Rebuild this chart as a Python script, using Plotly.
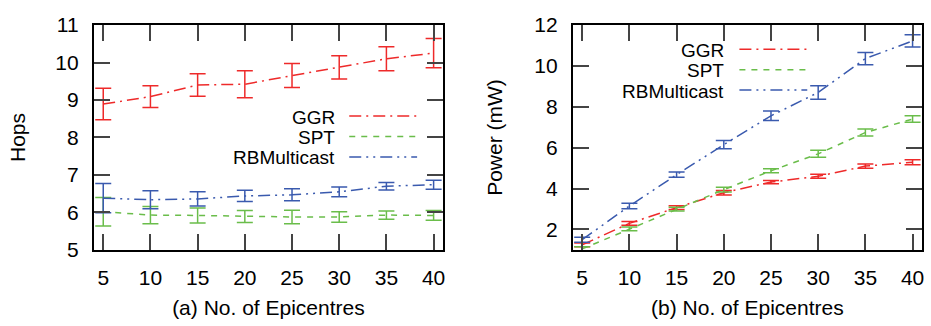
import plotly.graph_objects as go

epicentres = [5, 10, 15, 20, 25, 30, 35, 40]

# (a) Hops
hops_ggr = [8.89, 9.09, 9.40, 9.42, 9.65, 9.87, 10.10, 10.25]
hops_ggr_err = [0.42, 0.29, 0.30, 0.36, 0.32, 0.31, 0.32, 0.39]
hops_spt = [6.02, 5.93, 5.92, 5.89, 5.88, 5.88, 5.93, 5.92]
hops_spt_err = [0.38, 0.23, 0.20, 0.16, 0.18, 0.14, 0.11, 0.13]
hops_rbm = [6.38, 6.34, 6.36, 6.44, 6.47, 6.55, 6.70, 6.74]
hops_rbm_err = [0.39, 0.24, 0.19, 0.15, 0.16, 0.13, 0.10, 0.12]

# (b) Power (mW)
pow_ggr = [1.25, 2.30, 3.07, 3.80, 4.32, 4.60, 5.10, 5.29]
pow_ggr_err = [0.09, 0.09, 0.09, 0.11, 0.08, 0.10, 0.10, 0.12]
pow_spt = [1.05, 2.03, 3.00, 3.95, 4.87, 5.70, 6.74, 7.40]
pow_spt_err = [0.10, 0.09, 0.09, 0.12, 0.10, 0.17, 0.17, 0.16]
pow_rbm = [1.50, 3.15, 4.68, 6.15, 7.56, 8.70, 10.36, 11.22]
pow_rbm_err = [0.12, 0.13, 0.13, 0.20, 0.23, 0.33, 0.30, 0.30]

series_names = ["GGR", "SPT", "RBMulticast"]
colors = ["#ee2a2a", "#6abd4a", "#3a5aae"]
dashes = ["12px,5px,2px,5px", "6px,6px", "12px,5px,2px,5px,2px,5px"]

W, H = 931, 326
FONT = "Liberation Sans, Arial, sans-serif"
FS = 21
LEG_FS = 19

fig = go.Figure()

panels = [
    ("x", "y", [hops_ggr, hops_spt, hops_rbm], [hops_ggr_err, hops_spt_err, hops_rbm_err]),
    ("x2", "y2", [pow_ggr, pow_spt, pow_rbm], [pow_ggr_err, pow_spt_err, pow_rbm_err]),
]
for xa, ya, vals, errs in panels:
    for name, v, e, c, d in zip(series_names, vals, errs, colors, dashes):
        fig.add_trace(go.Scatter(
            x=epicentres, y=v, mode="lines", name=name, showlegend=False,
            line=dict(color=c, width=1.5, dash=d),
            error_y=dict(type="data", array=e, visible=True, color=c,
                         thickness=1.5, width=8),
            xaxis=xa, yaxis=ya,
        ))

def px_x(p):
    return p / W

def px_y(p):
    return 1 - p / H

axis_common = dict(
    showgrid=False, zeroline=False, showline=True, linecolor="black",
    linewidth=2, mirror="ticks", ticks="inside", ticklen=16, tickwidth=2,
    tickcolor="#444444", tickfont=dict(family=FONT, size=FS, color="black"),
)

ydom = [px_y(256), px_y(14)]
fig.update_layout(
    width=W, height=H,
    margin=dict(l=0, r=0, t=0, b=0),
    paper_bgcolor="white", plot_bgcolor="white",
    font=dict(family=FONT, size=FS, color="black"),
    xaxis=dict(domain=[px_x(94), px_x(444)], range=[4, 41],
               tickvals=epicentres, ticklabelstandoff=8,
               title=dict(text="(a) No. of Epicentres", standoff=12,
                          font=dict(family=FONT, size=FS)),
               anchor="y", **axis_common),
    yaxis=dict(domain=ydom, range=[5, 11], dtick=1, ticklabelstandoff=9,
               title=dict(text="Hops", standoff=24, font=dict(family=FONT, size=FS)),
               anchor="x", **axis_common),
    xaxis2=dict(domain=[px_x(574), px_x(924)], range=[4, 41],
                tickvals=epicentres, ticklabelstandoff=8,
                title=dict(text="(b) No. of Epicentres", standoff=12,
                           font=dict(family=FONT, size=FS)),
                anchor="y2", **axis_common),
    yaxis2=dict(domain=ydom, range=[1, 12], tickvals=[2, 4, 6, 8, 10, 12],
                ticklabelstandoff=9,
                title=dict(text="Power (mW)", standoff=26, font=dict(family=FONT, size=FS)),
                anchor="x2", **axis_common),
)

# Gnuplot-style legends: text right-aligned, line sample on the right
legends = [
    (337, 350, 418, [112, 134, 156]),
    (727, 741, 809, [40, 62, 84]),
]
for text_right, lx0, lx1, rows in legends:
    for name, c, d, ry in zip(series_names, colors, dashes, rows):
        fig.add_annotation(
            xref="paper", yref="paper", x=px_x(text_right), y=px_y(ry + 1),
            text=name, showarrow=False, xanchor="right", yanchor="middle",
            borderpad=0,
            font=dict(family=FONT, size=LEG_FS, color="black"),
        )
        fig.add_shape(
            type="line", xref="paper", yref="paper",
            x0=px_x(lx0), x1=px_x(lx1), y0=px_y(ry), y1=px_y(ry),
            line=dict(color=c, width=1.5, dash=d),
        )

fig.write_html("out.html")
